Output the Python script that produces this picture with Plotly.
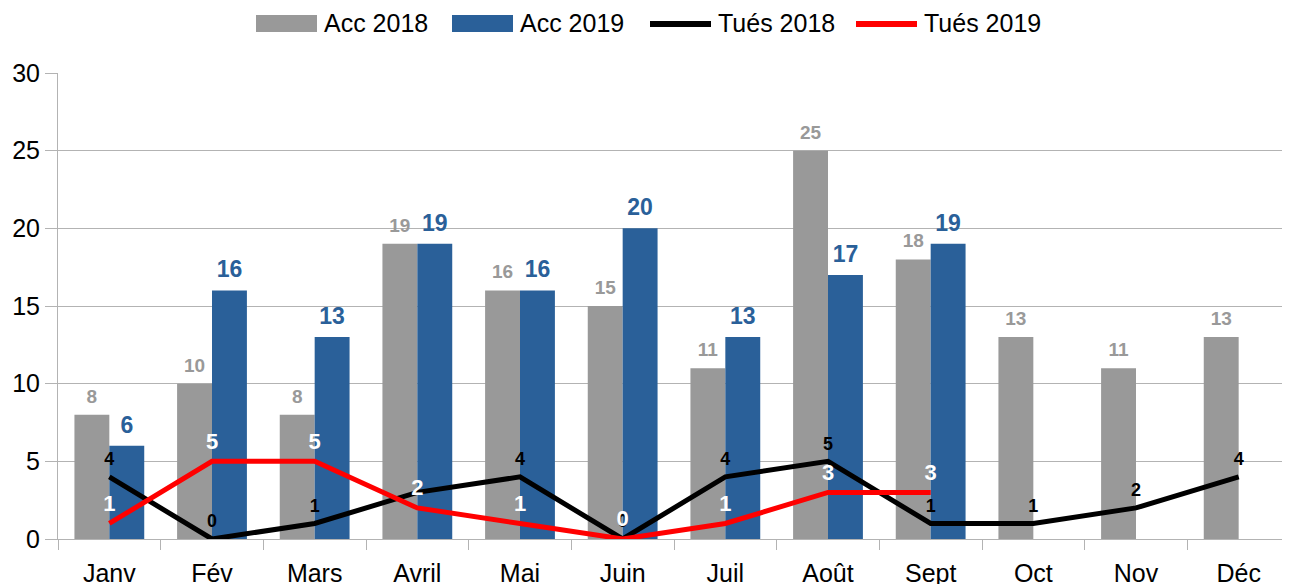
import plotly.graph_objects as go

months = ["Janv", "Fév", "Mars", "Avril", "Mai", "Juin", "Juil", "Août", "Sept", "Oct", "Nov", "Déc"]
acc_2018 = [8, 10, 8, 19, 16, 15, 11, 25, 18, 13, 11, 13]
acc_2019 = [6, 16, 13, 19, 16, 20, 13, 17, 19]
tues_2018 = [4, 0, 1, 3, 4, 0, 4, 5, 1, 1, 2, 4]
tues_2018_labels = ["4", "0", "1", "", "4", "0", "4", "5", "1", "1", "2", "4"]
tues_2019 = [1, 5, 5, 2, 1, 0, 1, 3, 3]
y_ticks = [0, 5, 10, 15, 20, 25, 30]

GRAY = "#999999"
BLUE = "#2a6099"
GRID = "#b3b3b3"
FONT = "Liberation Sans, Arial, sans-serif"

BAR_W = 0.34
idx = list(range(len(months)))
idx19 = idx[:len(acc_2019)]

fig = go.Figure()
fig.add_trace(go.Bar(
    x=idx, y=acc_2018, name="Acc 2018", marker=dict(color=GRAY, line=dict(width=0)),
    width=BAR_W, offset=-BAR_W, showlegend=False,
))
fig.add_trace(go.Bar(
    x=idx19, y=acc_2019, name="Acc 2019", marker=dict(color=BLUE, line=dict(width=0)),
    width=BAR_W, offset=0, showlegend=False,
))
# bar value labels
fig.add_trace(go.Scatter(
    x=[i - BAR_W / 2 for i in idx], y=acc_2018, mode="markers+text",
    marker=dict(size=10, opacity=0), text=[str(v) for v in acc_2018],
    textposition="top center", showlegend=False, hoverinfo="skip",
    textfont=dict(color=GRAY, size=19, family=FONT, weight="bold"), cliponaxis=False,
))
fig.add_trace(go.Scatter(
    x=[i + BAR_W / 2 for i in idx19], y=acc_2019, mode="markers+text",
    marker=dict(size=10, opacity=0), text=[str(v) for v in acc_2019],
    textposition="top center", showlegend=False, hoverinfo="skip",
    textfont=dict(color=BLUE, size=23, family=FONT, weight="bold"), cliponaxis=False,
))
fig.add_trace(go.Scatter(
    x=idx, y=tues_2018, name="Tués 2018", mode="lines+markers+text",
    line=dict(color="black", width=5), marker=dict(size=10, opacity=0),
    text=tues_2018_labels, textposition="top center", showlegend=False,
    textfont=dict(color="black", size=18, family=FONT, weight="bold"), cliponaxis=False,
))
fig.add_trace(go.Scatter(
    x=idx19, y=tues_2019, name="Tués 2019", mode="lines+markers+text",
    line=dict(color="#ff0000", width=5), marker=dict(size=10, opacity=0),
    text=[str(v) for v in tues_2019], textposition="top center", showlegend=False,
    textfont=dict(color="white", size=22, family=FONT, weight="bold"), cliponaxis=False,
))

# page body has an 8px margin; figure sized to fill the rest of the window
OFF = 8
W, H = 1290 - OFF, 584 - OFF
L, R, T, B = 58 - OFF, 0, 73 - OFF, 45
PW, PH = W - L - R, H - T - B
def px(x):  # screen pixel -> paper
    return (x - OFF - L) / PW
def py(y):
    return (H - B - (y - OFF)) / PH

legend_items = [
    ("Acc 2018", GRAY, "rect", 256),
    ("Acc 2019", BLUE, "rect", 452),
    ("Tués 2018", "black", "line", 650),
    ("Tués 2019", "#ff0000", "line", 856),
]
shapes = []
annotations = []
for label, color, kind, x0 in legend_items:
    if kind == "rect":
        shapes.append(dict(type="rect", xref="paper", yref="paper",
                           x0=px(x0), x1=px(x0 + 61), y0=py(32), y1=py(15),
                           fillcolor=color, line=dict(width=0)))
    else:
        shapes.append(dict(type="line", xref="paper", yref="paper",
                           x0=px(x0), x1=px(x0 + 61), y0=py(24), y1=py(24),
                           line=dict(color=color, width=6)))
    annotations.append(dict(text=label, xref="paper", yref="paper",
                            x=px(x0 + 66), y=py(23.5), xanchor="left", yanchor="middle",
                            showarrow=False, font=dict(size=25, family=FONT, color="black")))

fig.update_layout(
    width=W, height=H,
    margin=dict(l=L, r=R, t=T, b=B, autoexpand=False),
    paper_bgcolor="white", plot_bgcolor="white",
    barmode="overlay",
    font=dict(family=FONT, size=25, color="black"),
    showlegend=False,
    shapes=shapes, annotations=annotations,
)
fig.update_xaxes(
    range=[-0.5, len(months) - 0.5], tickvals=idx, ticktext=months,
    showgrid=False, showline=True, linecolor=GRID, linewidth=1,
    ticks="outside", ticklen=12, tickcolor="rgba(0,0,0,0)",
    minor=dict(tickvals=[i - 0.5 for i in range(len(months) + 1)], ticks="outside",
               ticklen=10, tickcolor=GRID, showgrid=False),
    tickfont=dict(size=25, family=FONT, color="black"), zeroline=False, automargin=False,
)
fig.update_yaxes(
    range=[0, 30], tickvals=y_ticks, showgrid=True, gridcolor=GRID, gridwidth=1,
    showline=True, linecolor=GRID, ticks="outside", ticklen=12, tickcolor=GRID,
    tickfont=dict(size=25, family=FONT, color="black"), zeroline=False, automargin=False,
)

fig.write_html("out.html")
